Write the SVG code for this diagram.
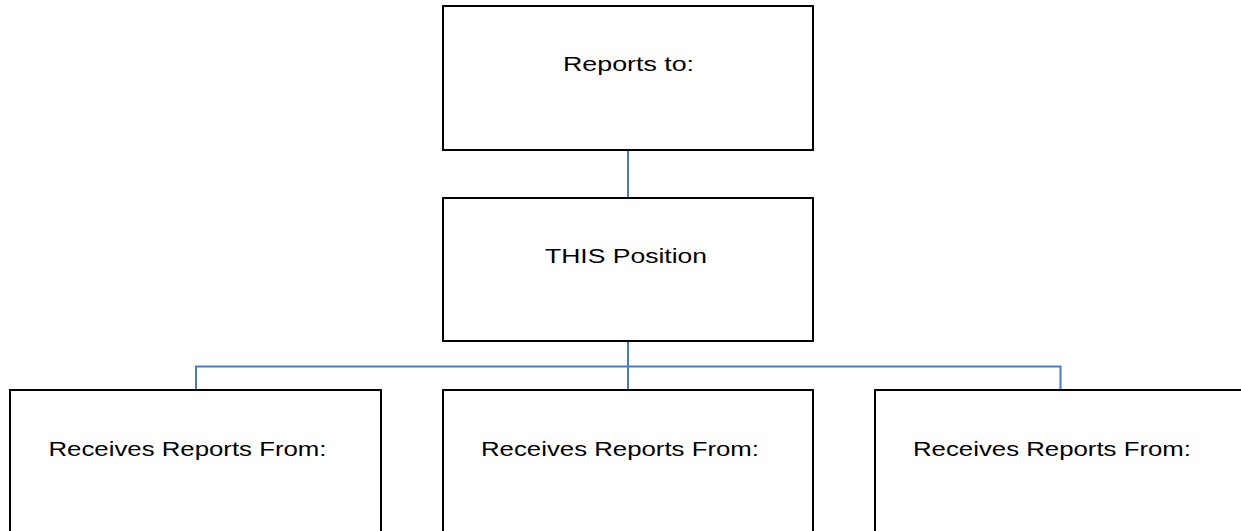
<svg xmlns="http://www.w3.org/2000/svg" width="1241" height="531" viewBox="0 0 1241 531">
<style>
.box{fill:#fff;stroke:#000;stroke-width:2}
.lbl{font-family:"Liberation Sans",Arial,sans-serif;font-size:20.5px;fill:#000}
.conn{fill:none;stroke:#4a7cc4;stroke-width:2}
</style>
<rect width="1241" height="531" fill="#fff"/>
<g id="connectors">
<line class="conn" x1="628" y1="150" x2="628" y2="198"/>
<line class="conn" x1="628" y1="341" x2="628" y2="390"/>
<polyline class="conn" points="196,390 196,366.5 1060.5,366.5 1060.5,390"/>
</g>
<g id="reports-to">
<rect class="box" x="443" y="6" width="370" height="144"/>
<text class="lbl" x="563" y="71" textLength="131" lengthAdjust="spacingAndGlyphs">Reports to:</text>
</g>
<g id="this-position">
<rect class="box" x="443" y="198" width="370" height="143"/>
<text class="lbl" x="545" y="263" textLength="162" lengthAdjust="spacingAndGlyphs">THIS Position</text>
</g>
<g id="receives-1">
<rect class="box" x="10" y="390" width="371" height="170"/>
<text class="lbl" x="48.5" y="456" textLength="278" lengthAdjust="spacingAndGlyphs">Receives Reports From:</text>
</g>
<g id="receives-2">
<rect class="box" x="443" y="390" width="370" height="170"/>
<text class="lbl" x="481" y="456" textLength="278" lengthAdjust="spacingAndGlyphs">Receives Reports From:</text>
</g>
<g id="receives-3">
<rect class="box" x="875" y="390" width="380" height="170"/>
<text class="lbl" x="913" y="456" textLength="278" lengthAdjust="spacingAndGlyphs">Receives Reports From:</text>
</g>
</svg>
